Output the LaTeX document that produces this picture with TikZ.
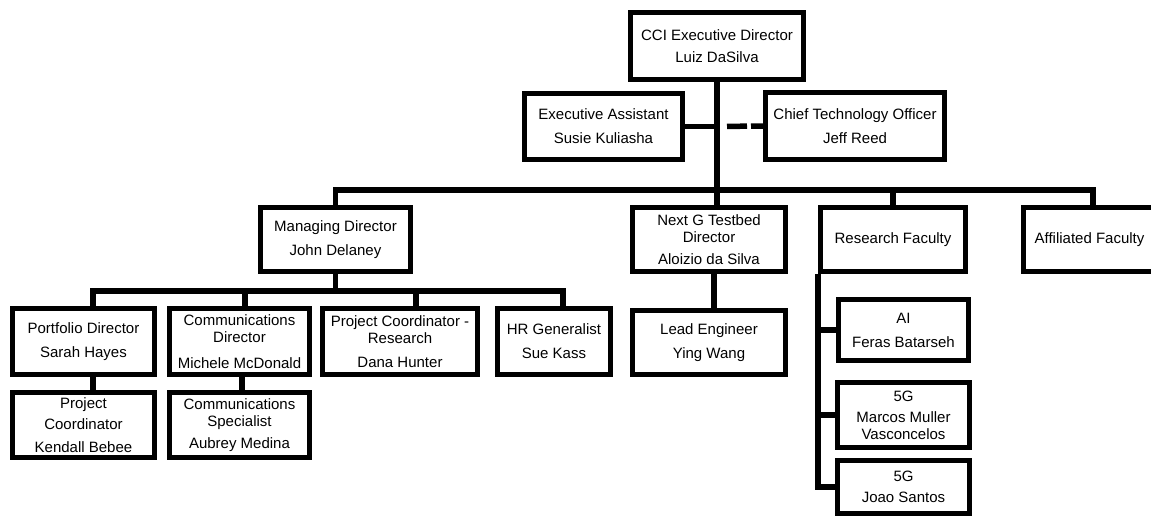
\documentclass[tikz,border=0pt]{standalone}
\usepackage{fontspec}
\setmainfont{Liberation Sans}
\begin{document}
\begin{tikzpicture}[x=1pt,y=-1pt,
  role/.style 2 args={draw, line width=5pt, minimum width=#1, minimum height=#2,
    inner sep=0pt, align=center, font=\fontsize{15}{17}\selectfont},
  link/.style={line width=5.5pt}]
  \useasboundingbox (0,0) rectangle (1151,519);
  \clip (0,0) rectangle (1151,519);
  \node[role={173pt}{67pt}] (cci) at (717,46) {CCI Executive Director\\[5pt]Luiz DaSilva};
  \node[role={158pt}{66pt}] (assist) at (603.5,126.5) {Executive Assistant\\[7pt]Susie Kuliasha};
  \node[role={179pt}{67pt}] (cto) at (855,126) {Chief Technology Officer\\[7pt]Jeff Reed};
  \node[role={150pt}{64pt}] (mdir) at (335.5,239.5) {Managing Director\\[7pt]John Delaney};
  \node[role={153pt}{64pt}] (nextg) at (709,239.5) {Next G Testbed\\Director\\[5pt]Aloizio da Silva};
  \node[role={145pt}{64pt}] (resfac) at (893,239.5) {Research Faculty};
  \node[role={132pt}{64pt}] (affil) at (1089.5,239.5) {Affiliated Faculty};
  \node[role={142pt}{66pt}] (port) at (83.5,341.5) {Portfolio Director\\[7pt]Sarah Hayes};
  \node[role={140pt}{66pt}] (cdir) at (239.5,341.5) {Communications\\Director\\[9pt]Michele McDonald};
  \node[role={155pt}{66pt}] (pcoord) at (400,341.5) {Project Coordinator -\\Research\\[7pt]Dana Hunter};
  \node[role={113pt}{66pt}] (hr) at (554,341.5) {HR Generalist\\[7pt]Sue Kass};
  \node[role={153pt}{64pt}] (lead) at (709,342.5) {Lead Engineer\\[7pt]Ying Wang};
  \node[role={142pt}{65pt}] (kendall) at (83.5,425) {Project\\[4pt]Coordinator\\[6pt]Kendall Bebee};
  \node[role={140pt}{65pt}] (cspec) at (239.5,425) {Communications\\Specialist\\[5pt]Aubrey Medina};
  \node[role={130pt}{61pt}] (ai) at (903.5,330) {AI\\[7pt]Feras Batarseh};
  \node[role={132pt}{65pt}] (marcos) at (903.5,415) {5G\\[4pt]Marcos Muller\\Vasconcelos};
  \node[role={132pt}{53pt}] (joao) at (903.5,487) {5G\\[4pt]Joao Santos};
  \coordinate (bus) at (717,190);
  \coordinate (mbus) at (335.5,291);
  \draw[link] (cci.south) -- (cci.south |- nextg.north);
  \draw[link] (assist.east) -- (assist.east -| cci.south);
  \draw[link, dash pattern=on 0pt off 10pt on 20pt off 4pt on 20pt off 0pt] (assist.east -| cci.south) -- (cto.west);
  \draw[link] (mdir.north) |- (bus) -| ([xshift=3.5pt]affil.north);
  \draw[link] (bus) -| (resfac.north);
  \draw[link] (mdir.south) -- (mbus);
  \draw[link] ([xshift=9.5pt]port.north) |- (mbus) -| ([xshift=9pt]hr.north);
  \draw[link] ([xshift=5.5pt]cdir.north) -- ([xshift=5.5pt]cdir.north |- mbus);
  \draw[link] ([xshift=16pt]pcoord.north) -- ([xshift=16pt]pcoord.north |- mbus);
  \draw[link] ([xshift=9.5pt]port.south) -- ([xshift=9.5pt]kendall.north);
  \draw[link] ([xshift=2.5pt]cdir.south) -- ([xshift=2.5pt]cspec.north);
  \draw[link] ([xshift=5pt]nextg.south) -- ([xshift=5pt]lead.north);
  \draw[link] (resfac.south west) |- (joao.west);
  \draw[link] (ai.west) -- (ai.west -| resfac.south west);
  \draw[link] (marcos.west) -- (marcos.west -| resfac.south west);
\end{tikzpicture}
\end{document}
